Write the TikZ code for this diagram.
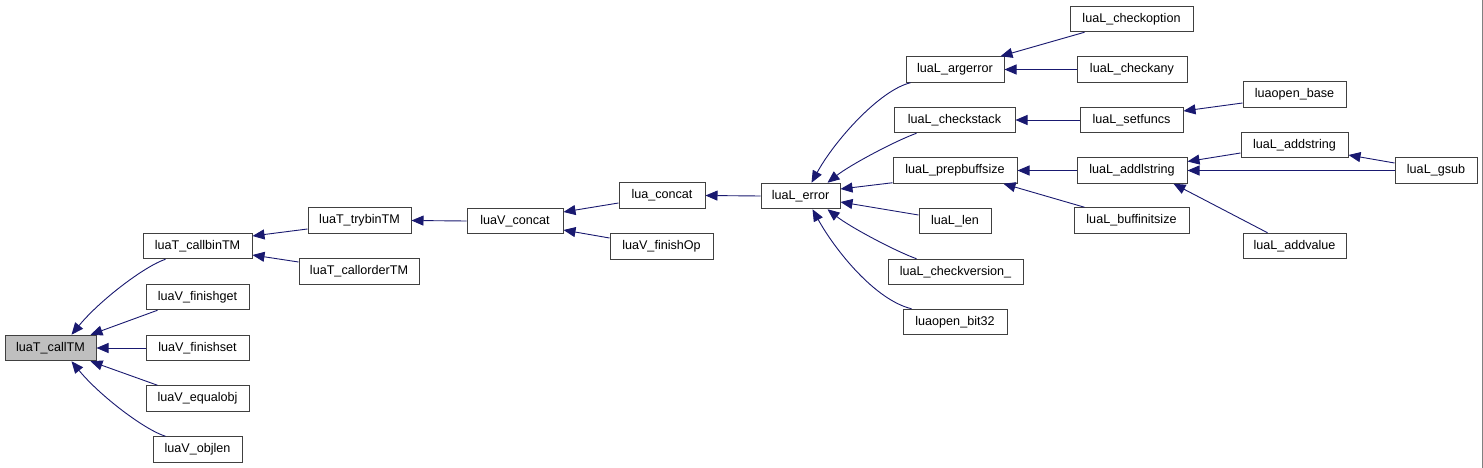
\documentclass[tikz,border=0pt]{standalone}
\usepackage{fontspec}
\setmainfont{Liberation Sans}
\usetikzlibrary{arrows.meta,calc}
\definecolor{edgeblue}{HTML}{191970}
\definecolor{rootgray}{HTML}{BFBFBF}
\definecolor{boxline}{HTML}{404040}
\begin{document}
\begin{tikzpicture}[x=1pt,y=-1pt,
  nd/.style={draw=boxline,line width=1pt,fill=white,inner sep=0pt,minimum height=25.5pt,
    font=\fontsize{12.6}{14}\selectfont},
  root/.style={nd,fill=rootgray},
  ed/.style={draw=edgeblue,line width=0.9pt,-{Triangle[length=12pt,width=10pt]}}]
\useasboundingbox (0,0) rectangle (1483,468);
\fill[white] (0,0) rectangle (1483,468);
\draw[gray,line width=1pt] (1482.5,0) -- (1482.5,468);
% nodes
\node[root,minimum width=91pt]  (callTM)     at (50.5,348)   {luaT\_callTM};
\node[nd,minimum width=109pt]   (callbinTM)  at (197.5,246)  {luaT\_callbinTM};
\node[nd,minimum width=103pt]   (finishget)  at (197.5,297)  {luaV\_finishget};
\node[nd,minimum width=103pt]   (finishset)  at (197.5,348)  {luaV\_finishset};
\node[nd,minimum width=103pt]   (equalobj)   at (197.5,398.5){luaV\_equalobj};
\node[nd,minimum width=89pt]    (objlen)     at (197.5,449.5){luaV\_objlen};
\node[nd,minimum width=103pt]   (trybinTM)   at (359.5,220.5){luaT\_trybinTM};
\node[nd,minimum width=120pt]   (callorderTM) at (359,271.5) {luaT\_callorderTM};
\node[nd,minimum width=96pt]    (Vconcat)    at (515,221)    {luaV\_concat};
\node[nd,minimum width=86pt]    (luaconcat)  at (662,195.5)  {lua\_concat};
\node[nd,minimum width=103pt]   (finishOp)   at (661.5,246.5){luaV\_finishOp};
\node[nd,minimum width=79pt]    (error)      at (800.5,196)  {luaL\_error};
\node[nd,minimum width=98pt]    (argerror)   at (955,69.5)   {luaL\_argerror};
\node[nd,minimum width=121pt]   (checkstack) at (954.5,120)  {luaL\_checkstack};
\node[nd,minimum width=124pt]   (prepbuff)   at (955,170.5)  {luaL\_prepbuffsize};
\node[nd,minimum width=72pt]    (len)        at (955,221)    {luaL\_len};
\node[nd,minimum width=135pt]   (checkver)   at (955.5,272)  {luaL\_checkversion\_};
\node[nd,minimum width=104pt]   (bit32)      at (955,322)    {luaopen\_bit32};
\node[nd,minimum width=123pt]   (checkoption) at (1131.5,19) {luaL\_checkoption};
\node[nd,minimum width=110pt]   (checkany)   at (1132,69.5)  {luaL\_checkany};
\node[nd,minimum width=103pt]   (setfuncs)   at (1131.5,120) {luaL\_setfuncs};
\node[nd,minimum width=110pt]   (addlstring) at (1132,170.5) {luaL\_addlstring};
\node[nd,minimum width=115pt]   (buffinit)   at (1131.5,220.5){luaL\_buffinitsize};
\node[nd,minimum width=103pt]   (openbase)   at (1294.5,94.5){luaopen\_base};
\node[nd,minimum width=107pt]   (addstring)  at (1294.5,145) {luaL\_addstring};
\node[nd,minimum width=103pt]   (addvalue)   at (1294.5,246) {luaL\_addvalue};
\node[nd,minimum width=82pt]    (gsub)       at (1436,170.5) {luaL\_gsub};
% edges
\draw[ed] ($(callbinTM.south west)+(23,0)$) .. controls (145,266) and (100,300) .. ($(callTM.north west)+(67,0)$);
\draw[ed] ($(finishget.south west)+(12,0)$) -- ($(callTM.north east)+(-6,0)$);
\draw[ed] (finishset.west) -- (callTM.east);
\draw[ed] ($(equalobj.north west)+(12,0)$) -- ($(callTM.south east)+(-6,0)$);
\draw[ed] ($(objlen.north west)+(13,0)$) .. controls (145,430) and (100,396) .. ($(callTM.south west)+(67,0)$);
\draw[ed] ($(trybinTM.west)+(0,8.5)$) -- ($(callbinTM.east)+(0,-10)$);
\draw[ed] ($(callorderTM.west)+(0,-9.5)$) -- ($(callbinTM.east)+(0,9)$);
\draw[ed] (Vconcat.west) -- (trybinTM.east);
\draw[ed] ($(luaconcat.west)+(0,7.5)$) -- ($(Vconcat.east)+(0,-9)$);
\draw[ed] ($(finishOp.west)+(0,-8.5)$) -- ($(Vconcat.east)+(0,9)$);
\draw[ed] (error.west) -- (luaconcat.east);
\draw[ed] ($(argerror.south west)+(5,0)$) .. controls (880,90) and (835,140) .. ($(error.north west)+(51,0)$);
\draw[ed] ($(checkstack.south west)+(23,0)$) .. controls (895,141) and (850,165) .. ($(error.north west)+(67,0)$);
\draw[ed] ($(prepbuff.south west)+(0,-1)$) -- ($(error.east)+(0,-7)$);
\draw[ed] ($(len.west)+(0,-6)$) -- ($(error.east)+(0,6)$);
\draw[ed] ($(checkver.north west)+(29,0)$) .. controls (895,251) and (850,227) .. ($(error.south west)+(67,0)$);
\draw[ed] ($(bit32.north west)+(9,0)$) .. controls (875,300) and (835,250) .. ($(error.south west)+(52,0)$);
\draw[ed] ($(checkoption.south west)+(15,0)$) -- ($(argerror.north east)+(-4,0)$);
\draw[ed] (checkany.west) -- (argerror.east);
\draw[ed] (setfuncs.west) -- (checkstack.east);
\draw[ed] (addlstring.west) -- (prepbuff.east);
\draw[ed] ($(buffinit.north west)+(11,0)$) -- ($(prepbuff.south east)+(-14,0)$);
\draw[ed] ($(openbase.west)+(0,8.5)$) -- ($(setfuncs.east)+(0,-9)$);
\draw[ed] ($(addstring.west)+(0,8)$) -- ($(addlstring.east)+(0,-9)$);
\draw[ed] (gsub.west) -- (addlstring.east);
\draw[ed] ($(addvalue.north west)+(25,0)$) -- ($(addlstring.south east)+(-14,0)$);
\draw[ed] ($(gsub.west)+(0,-7.5)$) -- ($(addstring.east)+(0,10)$);
\end{tikzpicture}
\end{document}
